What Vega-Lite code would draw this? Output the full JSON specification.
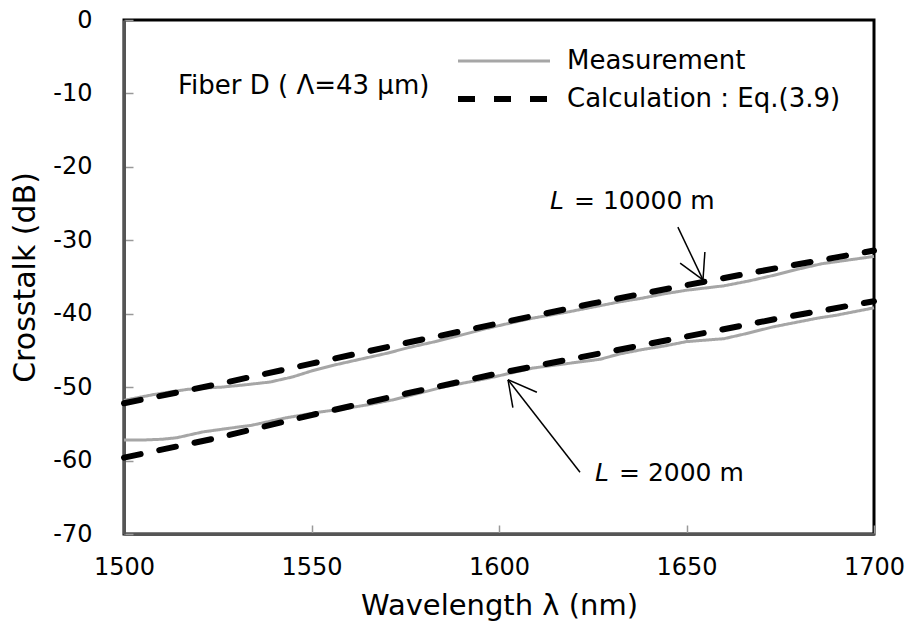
{
  "$schema": "https://vega.github.io/schema/vega-lite/v6.json",
  "autosize": {"type": "none"},
  "padding": {"left": 124, "top": 20, "right": 34, "bottom": 98},
  "width": 750,
  "height": 514,
  "background": "white",
  "config": {
    "font": "DejaVu Sans",
    "view": {"stroke": "#000000", "strokeWidth": 3},
    "axis": {
      "grid": false,
      "labelFont": "DejaVu Sans",
      "labelFontSize": 24,
      "labelColor": "#000000",
      "titleFont": "DejaVu Sans",
      "titleFontSize": 29,
      "titleFontWeight": "normal",
      "titleColor": "#000000",
      "tickSize": -9,
      "tickColor": "#999999",
      "tickWidth": 1.5,
      "domainColor": "#555555",
      "domainWidth": 3,
      "labelFlush": false,
      "labelOverlap": false
    }
  },
  "datasets": {
    "meas": [
      {"type": "Measurement", "L": "2000 m", "wl": 1500, "xt": -57.2},
      {"type": "Measurement", "L": "2000 m", "wl": 1505, "xt": -57.2},
      {"type": "Measurement", "L": "2000 m", "wl": 1510, "xt": -57.1},
      {"type": "Measurement", "L": "2000 m", "wl": 1514, "xt": -56.9},
      {"type": "Measurement", "L": "2000 m", "wl": 1521, "xt": -56.1},
      {"type": "Measurement", "L": "2000 m", "wl": 1528, "xt": -55.6},
      {"type": "Measurement", "L": "2000 m", "wl": 1534, "xt": -55.2},
      {"type": "Measurement", "L": "2000 m", "wl": 1543, "xt": -54.2},
      {"type": "Measurement", "L": "2000 m", "wl": 1552, "xt": -53.4},
      {"type": "Measurement", "L": "2000 m", "wl": 1558, "xt": -53.0},
      {"type": "Measurement", "L": "2000 m", "wl": 1565, "xt": -52.4},
      {"type": "Measurement", "L": "2000 m", "wl": 1572, "xt": -51.7},
      {"type": "Measurement", "L": "2000 m", "wl": 1579, "xt": -50.8},
      {"type": "Measurement", "L": "2000 m", "wl": 1585, "xt": -50.0},
      {"type": "Measurement", "L": "2000 m", "wl": 1591, "xt": -49.4},
      {"type": "Measurement", "L": "2000 m", "wl": 1597, "xt": -48.8},
      {"type": "Measurement", "L": "2000 m", "wl": 1603, "xt": -48.1},
      {"type": "Measurement", "L": "2000 m", "wl": 1609, "xt": -47.4},
      {"type": "Measurement", "L": "2000 m", "wl": 1618, "xt": -46.8},
      {"type": "Measurement", "L": "2000 m", "wl": 1627, "xt": -46.2},
      {"type": "Measurement", "L": "2000 m", "wl": 1632, "xt": -45.5},
      {"type": "Measurement", "L": "2000 m", "wl": 1638, "xt": -44.9},
      {"type": "Measurement", "L": "2000 m", "wl": 1644, "xt": -44.4},
      {"type": "Measurement", "L": "2000 m", "wl": 1650, "xt": -43.8},
      {"type": "Measurement", "L": "2000 m", "wl": 1655, "xt": -43.6},
      {"type": "Measurement", "L": "2000 m", "wl": 1660, "xt": -43.4},
      {"type": "Measurement", "L": "2000 m", "wl": 1666, "xt": -42.7},
      {"type": "Measurement", "L": "2000 m", "wl": 1673, "xt": -41.8},
      {"type": "Measurement", "L": "2000 m", "wl": 1679, "xt": -41.2},
      {"type": "Measurement", "L": "2000 m", "wl": 1685, "xt": -40.6},
      {"type": "Measurement", "L": "2000 m", "wl": 1690, "xt": -40.2},
      {"type": "Measurement", "L": "2000 m", "wl": 1694, "xt": -39.8},
      {"type": "Measurement", "L": "2000 m", "wl": 1700, "xt": -39.2},
      {"type": "Measurement", "L": "10000 m", "wl": 1500, "xt": -51.8},
      {"type": "Measurement", "L": "10000 m", "wl": 1504, "xt": -51.4},
      {"type": "Measurement", "L": "10000 m", "wl": 1508, "xt": -51.0},
      {"type": "Measurement", "L": "10000 m", "wl": 1513, "xt": -50.6},
      {"type": "Measurement", "L": "10000 m", "wl": 1517, "xt": -50.3},
      {"type": "Measurement", "L": "10000 m", "wl": 1522, "xt": -50.1},
      {"type": "Measurement", "L": "10000 m", "wl": 1526, "xt": -50.0},
      {"type": "Measurement", "L": "10000 m", "wl": 1532, "xt": -49.7},
      {"type": "Measurement", "L": "10000 m", "wl": 1539, "xt": -49.3},
      {"type": "Measurement", "L": "10000 m", "wl": 1545, "xt": -48.6},
      {"type": "Measurement", "L": "10000 m", "wl": 1550, "xt": -47.8},
      {"type": "Measurement", "L": "10000 m", "wl": 1556, "xt": -47.0},
      {"type": "Measurement", "L": "10000 m", "wl": 1563, "xt": -46.2},
      {"type": "Measurement", "L": "10000 m", "wl": 1570, "xt": -45.4},
      {"type": "Measurement", "L": "10000 m", "wl": 1576, "xt": -44.6},
      {"type": "Measurement", "L": "10000 m", "wl": 1583, "xt": -43.8},
      {"type": "Measurement", "L": "10000 m", "wl": 1590, "xt": -42.9},
      {"type": "Measurement", "L": "10000 m", "wl": 1596, "xt": -42.1},
      {"type": "Measurement", "L": "10000 m", "wl": 1601, "xt": -41.5},
      {"type": "Measurement", "L": "10000 m", "wl": 1609, "xt": -40.6},
      {"type": "Measurement", "L": "10000 m", "wl": 1618, "xt": -39.8},
      {"type": "Measurement", "L": "10000 m", "wl": 1627, "xt": -38.9},
      {"type": "Measurement", "L": "10000 m", "wl": 1632, "xt": -38.4},
      {"type": "Measurement", "L": "10000 m", "wl": 1638, "xt": -37.9},
      {"type": "Measurement", "L": "10000 m", "wl": 1644, "xt": -37.3},
      {"type": "Measurement", "L": "10000 m", "wl": 1650, "xt": -36.8},
      {"type": "Measurement", "L": "10000 m", "wl": 1655, "xt": -36.5},
      {"type": "Measurement", "L": "10000 m", "wl": 1660, "xt": -36.2},
      {"type": "Measurement", "L": "10000 m", "wl": 1667, "xt": -35.5},
      {"type": "Measurement", "L": "10000 m", "wl": 1673, "xt": -34.8},
      {"type": "Measurement", "L": "10000 m", "wl": 1680, "xt": -33.9},
      {"type": "Measurement", "L": "10000 m", "wl": 1686, "xt": -33.2},
      {"type": "Measurement", "L": "10000 m", "wl": 1693, "xt": -32.7},
      {"type": "Measurement", "L": "10000 m", "wl": 1700, "xt": -32.2}
    ],
    "calc": [
      {"type": "Calculation : Eq.(3.9)", "L": "2000 m", "wl": 1500, "xt": -59.6},
      {"type": "Calculation : Eq.(3.9)", "L": "2000 m", "wl": 1525, "xt": -56.9},
      {"type": "Calculation : Eq.(3.9)", "L": "2000 m", "wl": 1550, "xt": -53.8},
      {"type": "Calculation : Eq.(3.9)", "L": "2000 m", "wl": 1575, "xt": -50.9},
      {"type": "Calculation : Eq.(3.9)", "L": "2000 m", "wl": 1600, "xt": -48.1},
      {"type": "Calculation : Eq.(3.9)", "L": "2000 m", "wl": 1625, "xt": -45.6},
      {"type": "Calculation : Eq.(3.9)", "L": "2000 m", "wl": 1650, "xt": -43.1},
      {"type": "Calculation : Eq.(3.9)", "L": "2000 m", "wl": 1675, "xt": -40.6},
      {"type": "Calculation : Eq.(3.9)", "L": "2000 m", "wl": 1700, "xt": -38.3},
      {"type": "Calculation : Eq.(3.9)", "L": "10000 m", "wl": 1500, "xt": -52.2},
      {"type": "Calculation : Eq.(3.9)", "L": "10000 m", "wl": 1525, "xt": -49.6},
      {"type": "Calculation : Eq.(3.9)", "L": "10000 m", "wl": 1550, "xt": -46.8},
      {"type": "Calculation : Eq.(3.9)", "L": "10000 m", "wl": 1575, "xt": -44.0},
      {"type": "Calculation : Eq.(3.9)", "L": "10000 m", "wl": 1600, "xt": -41.3},
      {"type": "Calculation : Eq.(3.9)", "L": "10000 m", "wl": 1625, "xt": -38.6},
      {"type": "Calculation : Eq.(3.9)", "L": "10000 m", "wl": 1650, "xt": -36.1},
      {"type": "Calculation : Eq.(3.9)", "L": "10000 m", "wl": 1675, "xt": -33.7},
      {"type": "Calculation : Eq.(3.9)", "L": "10000 m", "wl": 1700, "xt": -31.4}
    ],
    "arrows": [
      {"wl": 1647.7, "xt": -28.2, "wl2": 1654.4, "xt2": -35.4},
      {"wl": 1648.3, "xt": -33.1, "wl2": 1654.4, "xt2": -35.4},
      {"wl": 1654.9, "xt": -31.6, "wl2": 1654.4, "xt2": -35.4},
      {"wl": 1621.6, "xt": -61.6, "wl2": 1602.4, "xt2": -49.0},
      {"wl": 1603.7, "xt": -52.8, "wl2": 1602.4, "xt2": -49.0},
      {"wl": 1610.1, "xt": -50.7, "wl2": 1602.4, "xt2": -49.0}
    ],
    "labels": [
      {"wl": 1613.6, "xt": -24.6, "rest": "= 10000 m"},
      {"wl": 1625.6, "xt": -61.7, "rest": "= 2000 m"}
    ],
    "note": [
      {"wl": 1514.4, "xt": -9.0, "text": "Fiber D ( Λ=43 μm)"}
    ]
  },
  "layer": [
    {
      "data": {"name": "meas"},
      "mark": {"type": "line", "strokeJoin": "round"},
      "encoding": {
        "x": {"field": "wl", "type": "quantitative", "scale": {"domain": [1500, 1700], "nice": false},
          "axis": {"title": "Wavelength λ  (nm)", "values": [1500, 1550, 1600, 1650, 1700], "labelPadding": 30, "titlePadding": 12, "labelExpr": "'' + datum.value"}},
        "y": {"field": "xt", "type": "quantitative", "scale": {"domain": [-70, 0], "nice": false},
          "axis": {"title": "Crosstalk (dB)", "titleFontSize": 30, "values": [-70, -60, -50, -40, -30, -20, -10, 0], "labelPadding": 41, "titlePadding": 12, "labelExpr": "'' + datum.value"}},
        "detail": {"field": "L"},
        "color": {"field": "type", "type": "nominal",
          "scale": {"domain": ["Measurement", "Calculation : Eq.(3.9)"], "range": ["#a6a6a6", "#000000"]},
          "legend": {"title": null, "orient": "none", "legendX": 331, "legendY": 26, "symbolType": "stroke", "symbolSize": 8464, "clipHeight": 30,
            "labelFont": "DejaVu Sans", "labelFontSize": 26, "labelColor": "#000000", "labelOffset": 14, "rowPadding": 8, "labelLimit": 400,
            "encode": {"symbols": {"enter": {"strokeDash": {"signal": "datum.value === 'Measurement' ? [1, 0] : [32, 22]"}}, "update": {"strokeDash": {"signal": "datum.value === 'Measurement' ? [1, 0] : [32, 22]"}}}}}},
        "strokeDash": {"field": "type", "type": "nominal", "legend": null,
          "scale": {"domain": ["Measurement", "Calculation : Eq.(3.9)"], "range": [[1, 0], [17, 19]]}},
        "strokeWidth": {"field": "type", "type": "nominal",
          "scale": {"domain": ["Measurement", "Calculation : Eq.(3.9)"], "range": [3, 6]}}
      }
    },
    {
      "data": {"name": "calc"},
      "mark": {"type": "line", "strokeCap": "round"},
      "encoding": {
        "x": {"field": "wl", "type": "quantitative"},
        "y": {"field": "xt", "type": "quantitative"},
        "detail": {"field": "L"},
        "color": {"field": "type", "type": "nominal"},
        "strokeDash": {"field": "type", "type": "nominal"},
        "strokeWidth": {"field": "type", "type": "nominal"}
      }
    },
    {
      "data": {"name": "arrows"},
      "mark": {"type": "rule", "color": "#000000", "strokeWidth": 1.5},
      "encoding": {
        "x": {"field": "wl", "type": "quantitative"},
        "y": {"field": "xt", "type": "quantitative"},
        "x2": {"field": "wl2"},
        "y2": {"field": "xt2"}
      }
    },
    {
      "data": {"name": "labels"},
      "mark": {"type": "text", "align": "left", "baseline": "middle", "fontSize": 25, "fontStyle": "italic", "font": "DejaVu Sans", "color": "#000000"},
      "encoding": {
        "x": {"field": "wl", "type": "quantitative"},
        "y": {"field": "xt", "type": "quantitative"},
        "text": {"value": "L"}
      }
    },
    {
      "data": {"name": "labels"},
      "mark": {"type": "text", "align": "left", "baseline": "middle", "dx": 24, "fontSize": 25, "font": "DejaVu Sans", "color": "#000000"},
      "encoding": {
        "x": {"field": "wl", "type": "quantitative"},
        "y": {"field": "xt", "type": "quantitative"},
        "text": {"field": "rest"}
      }
    },
    {
      "data": {"name": "note"},
      "mark": {"type": "text", "align": "left", "baseline": "middle", "fontSize": 26, "font": "DejaVu Sans", "color": "#000000"},
      "encoding": {
        "x": {"field": "wl", "type": "quantitative"},
        "y": {"field": "xt", "type": "quantitative"},
        "text": {"field": "text"}
      }
    }
  ]
}
